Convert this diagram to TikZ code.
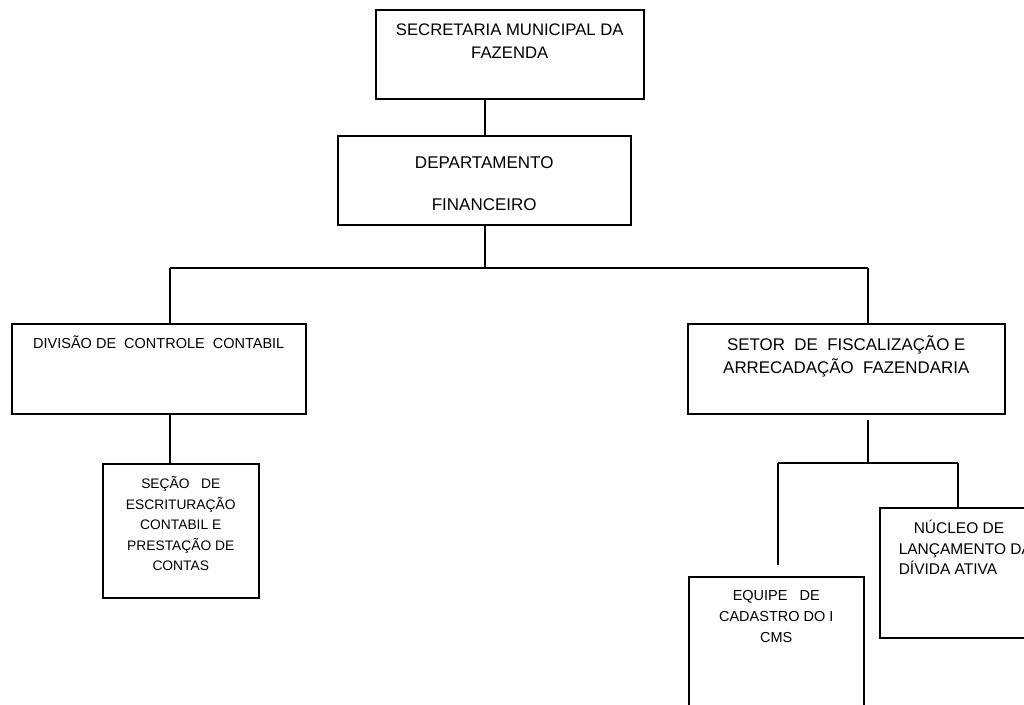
\documentclass[tikz,border=0pt]{standalone}
\usepackage{fontspec}
\setmainfont{Liberation Sans}

\begin{document}
\begin{tikzpicture}[
  x=1pt, y=-1pt,
  font=\fontsize{14.5}{23}\selectfont,
  orgbox/.style={draw=black, line width=1.5pt, inner sep=0pt, anchor=north west},
  link/.style={draw=black, line width=1.5pt}
]
\useasboundingbox (0,0) rectangle (1024,704);
\clip (0,0) rectangle (1024,704);

\node[orgbox, font=\fontsize{16.7}{23}\selectfont] (secretaria) at (375,9)
  {\parbox[c][89pt][t]{268pt}{\centering\rule{0pt}{26pt}SECRETARIA MUNICIPAL DA\\ FAZENDA}};
\node[orgbox, font=\fontsize{17}{21}\selectfont] (departamento) at (337,135)
  {\parbox[c][89pt][t]{293pt}{\centering\rule{0pt}{33pt}DEPARTAMENTO\\[21pt] FINANCEIRO}};
\node[orgbox] (divisao) at (11,323)
  {\parbox[c][90pt][t]{294pt}{\centering\rule{0pt}{25pt}DIVISÃO DE~ CONTROLE~ CONTABIL}};
\node[orgbox, font=\fontsize{13.8}{20.5}\selectfont] (secao) at (102,463)
  {\parbox[c][134pt][t]{156pt}{\centering\rule{0pt}{25pt}SEÇÃO~~ DE\\ ESCRITURAÇÃO\\ CONTABIL E\\ PRESTAÇÃO DE\\ CONTAS}};
\node[orgbox, font=\fontsize{16.9}{23}\selectfont] (setor) at (687,323)
  {\parbox[c][90pt][t]{317pt}{\centering\rule{0pt}{27pt}SETOR~ DE~ FISCALIZAÇÃO E\\ ARRECADAÇÃO~ FAZENDARIA}};
\node[orgbox, font=\fontsize{15.5}{20.5}\selectfont] (nucleo) at (879,507)
  {\parbox[c][130pt][t]{180pt}{\raggedright\leftskip=19pt\rule{0pt}{26pt}\hspace*{15pt}NÚCLEO DE\\ LANÇAMENTO DA\\ DÍVIDA ATIVA}};
\node[orgbox, font=\fontsize{14.5}{21}\selectfont] (equipe) at (688,576)
  {\parbox[c][140pt][t]{175pt}{\centering\rule{0pt}{24pt}EQUIPE~~ DE\\ CADASTRO DO I\\ CMS}};

% junctions
\coordinate (bus) at (485,268);
\coordinate (busL) at (170,268);
\coordinate (busR) at (868,268);
\coordinate (subbus) at (868,463);
\coordinate (subL) at (778,463);
\coordinate (subR) at (958,463);

\draw[link] (bus |- secretaria.south) -- (bus |- departamento.north);
\draw[link] (bus |- departamento.south) -- (bus);
\draw[link] (busL) -- (busR);
\draw[link] (busL) -- (busL |- divisao.north);
\draw[link] (busR) -- (busR |- setor.north);
\draw[link] (busL |- divisao.south) -- (busL |- secao.north);
\draw[link] ([yshift=-5pt]busR |- setor.south) -- (subbus);
\draw[link] (subL) -- (subR);
\draw[link] (subR) -- (subR |- nucleo.north);
\draw[link] (subL) -- ([yshift=11pt]subL |- equipe.north);
\end{tikzpicture}
\end{document}
